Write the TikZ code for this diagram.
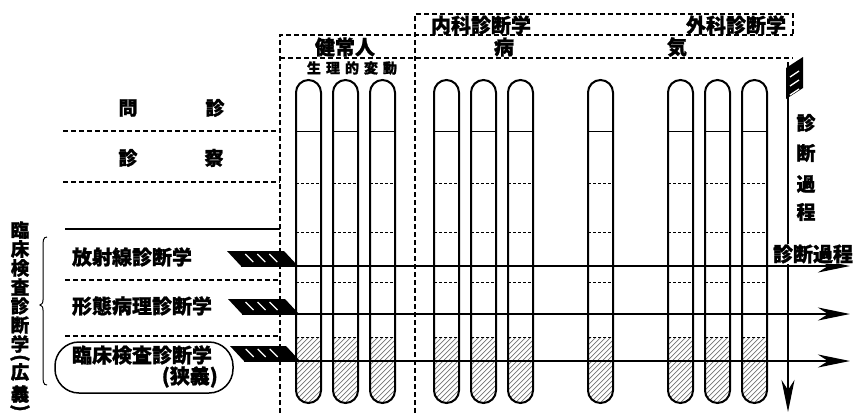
\documentclass[tikz,border=0pt]{standalone}
\usepackage{fontspec}
\newfontfamily\jp{Noto Sans CJK JP}[BoldFeatures={FakeBold=1.2}]
\usetikzlibrary{arrows.meta}
\begin{document}
\begin{tikzpicture}[x=1pt,y=-1pt,
  dline/.style={line width=1.8pt,dash pattern=on 5pt off 3pt},
  tubeline/.style={line width=2pt},
  innersolid/.style={line width=1pt},
  innerdash/.style={line width=0.9pt,dash pattern=on 3pt off 2pt},
  hatch/.style={black!55,line width=0.7pt},
  arr/.style={line width=2.6pt,-{Stealth[length=32pt,width=13pt,inset=10pt]}},
  flagshape/.style={fill=black},
  slashline/.style={white,line width=1.3pt},
  big/.style={font=\jp\bfseries\fontsize{20}{24}\selectfont,inner sep=0pt},
  mid/.style={font=\jp\bfseries\fontsize{19}{22}\selectfont,inner sep=0pt},
  small/.style={font=\jp\bfseries\fontsize{14}{16}\selectfont,inner sep=0pt},
  side/.style={font=\jp\bfseries\fontsize{18.5}{19}\selectfont,inner sep=0pt}]
\useasboundingbox (0,0) rectangle (857,413);

% header boxes
\draw[dline] (415,413) -- (415,14) -- (793,14) -- (793,35);
\draw[dline] (280,413) -- (280,35) -- (793,35);
\draw[dline] (280,58) -- (793,58);

% left row separators
\draw[dline] (63,131) -- (280,131);
\draw[dline] (63,182) -- (280,182);
\draw[line width=1.6pt] (65,229) -- (280,229);
\draw[dline] (65,280) -- (280,280);
\draw[dline] (65,336) -- (280,336);

% tubes
\foreach \L in {296,333,370,434,471,508,588,668,705,742}{
  \begin{scope}
    \clip (\L,92.5) arc[start angle=180,end angle=0,radius=12.5pt]
      -- (\L+25,390.5) arc[start angle=0,end angle=-180,radius=12.5pt] -- cycle;
    \clip (\L-5,337) rectangle (\L+30,410);
    \foreach \k in {0,5,...,110}
      \draw[hatch] (\L-80+\k,410) -- (\L-5+\k,335);
  \end{scope}
  \draw[innersolid] (\L,131) -- (\L+25,131);
  \draw[innerdash] (\L,183) -- (\L+25,183);
  \draw[innerdash] (\L,232) -- (\L+25,232);
  \draw[innerdash] (\L,282) -- (\L+25,282);
  \draw[innerdash] (\L,337) -- (\L+25,337);
  \draw[tubeline] (\L,92.5) arc[start angle=180,end angle=0,radius=12.5pt]
      -- (\L+25,390.5) arc[start angle=0,end angle=-180,radius=12.5pt] -- cycle;
}

% header texts
\node[big] (kenjo) at (345,47) {健常人};
\node[small] (seiri) at (352,68) {生\kern5pt 理\kern5pt 的\kern5pt 変\kern5pt 動};
\node[big] (naika) at (481,25) {内科診断学};
\node[big] (geka) at (736,25) {外科診断学};
\node[big] (byo) at (504,47) {病};
\node[big] (ki) at (677,47) {気};

% row labels
\node[mid] (mon) at (128,108) {問};
\node[mid] (shin1) at (215,108) {診};
\node[mid] (shin2) at (128,158) {診};
\node[mid] (satsu) at (214,158) {察};
\node[big] (hoshasen) at (132,257) {放射線診断学};
\node[big] (keitai) at (142,306) {形態病理診断学};
\node[big] (rinsho) at (142,355) {臨床検査診断学};
\node[big,anchor=east] (kyogi) at (218,377) {(狭義)};
\draw[line width=1.5pt,rounded corners=24pt] (55,342) rectangle (233,393);

% left vertical label
\foreach \c/\y [count=\i] in {臨/230,床/249,検/268,査/287,診/306,断/325,学/344,広/372,義/394}
  \node[side] (lc\i) at (20,\y) {\c};
\node[side,rotate=-90] (lpo) at (20,358) {(};
\node[side,rotate=-90] (lpc) at (20,408) {)};
\draw[line width=1pt] (47,237) .. controls (43,237) and (43,241) .. (43,247)
  -- (43,300) .. controls (43,303) .. (40,305) .. controls (43,307) .. (43,310)
  -- (43,375) .. controls (43,381) and (43,385) .. (47,385);

% horizontal arrows with flags
\coordinate (a1s) at (241,266); \coordinate (a1e) at (850,266);
\coordinate (a2s) at (242,314); \coordinate (a2e) at (850,314);
\coordinate (a3s) at (244,361); \coordinate (a3e) at (850,361);
\fill[flagshape] (227,251) -- (284,251) -- (298,266) -- (241,266) -- cycle;
\fill[flagshape] (228,299) -- (285,299) -- (299,314) -- (242,314) -- cycle;
\fill[flagshape] (230,346) -- (286,346) -- (300,361) -- (244,361) -- cycle;
\foreach \yy in {251,299,346}
  \foreach \xx in {244,256,268}
    \draw[slashline] (\xx+\yy/200,\yy+3) -- (\xx+\yy/200+8,\yy+11);
\draw[arr] (a1s) -- (a1e);
\draw[arr] (a2s) -- (a2e);
\draw[arr] (a3s) -- (a3e);

% vertical arrow with flag
\coordinate (vs) at (788,62); \coordinate (ve) at (788,412);
\draw[arr] (vs) -- (ve);
\fill[flagshape] (786,68) -- (803,57) -- (803,88) -- (786,99) -- cycle;
\foreach \yy in {77,86,95}
  \draw[slashline] (790,\yy) -- (799,\yy-6);

% process labels
\node[big,fill=white,inner sep=1pt] (shindanh) at (813,254) {診断過程};
\node[mid] (dv1) at (806,123) {診};
\node[mid] (dv2) at (806,153) {断};
\node[mid] (dv3) at (806,184) {過};
\node[mid] (dv4) at (806,212) {程};
\end{tikzpicture}
\end{document}
